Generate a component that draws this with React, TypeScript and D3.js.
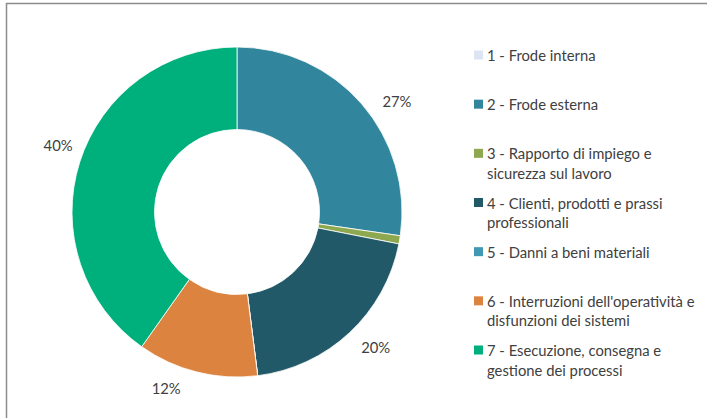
import React from 'react';
import * as d3 from 'd3';

// Loss-event categories, shares in percent
const categories = [
  ['1 - Frode interna'],
  ['2 - Frode esterna'],
  ['3 - Rapporto di impiego e', 'sicurezza sul lavoro'],
  ['4 - Clienti, prodotti e prassi', 'professionali'],
  ['5 - Danni a beni materiali'],
  ["6 - Interruzioni dell'operatività e", 'disfunzioni dei sistemi'],
  ['7 - Esecuzione, consegna e', 'gestione dei processi'],
];
const shares = [0, 27.3, 0.8, 19.9, 0, 11.8, 40.2];
const colors = ['#dce6f2', '#31859c', '#8ea84f', '#215968', '#4198b3', '#dc843f', '#00b07c'];

const W = 707;
const H = 418;
const cx = 237;
const cy = 212;
const outerR = 165;
const innerR = 82.5;
const labelR = 193;
// small offsets so the labels sit where the spreadsheet's "best fit" put them
const labelNudge: [number, number][] = [[0, 0], [14, 15], [0, 0], [7, -6], [0, 0], [-24, -11], [5, -9]];

const FONT = 'Lato, "Open Sans", sans-serif';
const FS = 14.8;

export default function App() {
  const pie = d3.pie<number>().sort(null).value(d => d);
  const arcs = pie(shares);
  const arc = d3.arc<d3.PieArcDatum<number>>().innerRadius(innerR).outerRadius(outerR);
  const labelArc = d3.arc<d3.PieArcDatum<number>>().innerRadius(labelR).outerRadius(labelR);

  // legend rows
  const legendY = d3.scalePoint<number>().domain(d3.range(categories.length)).range([55, 350]);

  return (
    <svg width={W} height={H} style={{ position: 'absolute', left: 0, top: 0, display: 'block' }}>
      <rect x={0} y={0} width={W} height={H} fill="#fff" />
      <rect x={6.5} y={3.5} width={W + 10} height={H + 10} fill="none" stroke="#8c8c8c" strokeWidth={1.5} />
      <g transform={`translate(${cx},${cy})`}>
        {arcs.map((a, i) => (
          <path key={i} d={arc(a) || ''} fill={colors[i]} stroke="#fff" strokeWidth={0.8} />
        ))}
        {arcs.map((a, i) => {
          if (a.data < 5) return null;
          const [x, y] = labelArc.centroid(a);
          return (
            <text key={i} x={x + labelNudge[i][0]} y={y + labelNudge[i][1]} textAnchor="middle"
              dominantBaseline="central" fontFamily={FONT} fontSize={FS} fill="#404040">
              {`${Math.round(a.data)}%`}
            </text>
          );
        })}
      </g>
      <g fontFamily={FONT} fontSize={FS} fill="#404040">
        {categories.map((lines, i) => {
          const y = legendY(i) ?? 0;
          return (
            <g key={i}>
              <rect x={474} y={y - 4.5} width={9} height={9} fill={colors[i]} />
              {lines.map((t, j) => (
                <text key={j} x={487} y={y + j * 19.5} dominantBaseline="central">{t}</text>
              ))}
            </g>
          );
        })}
      </g>
    </svg>
  );
}
